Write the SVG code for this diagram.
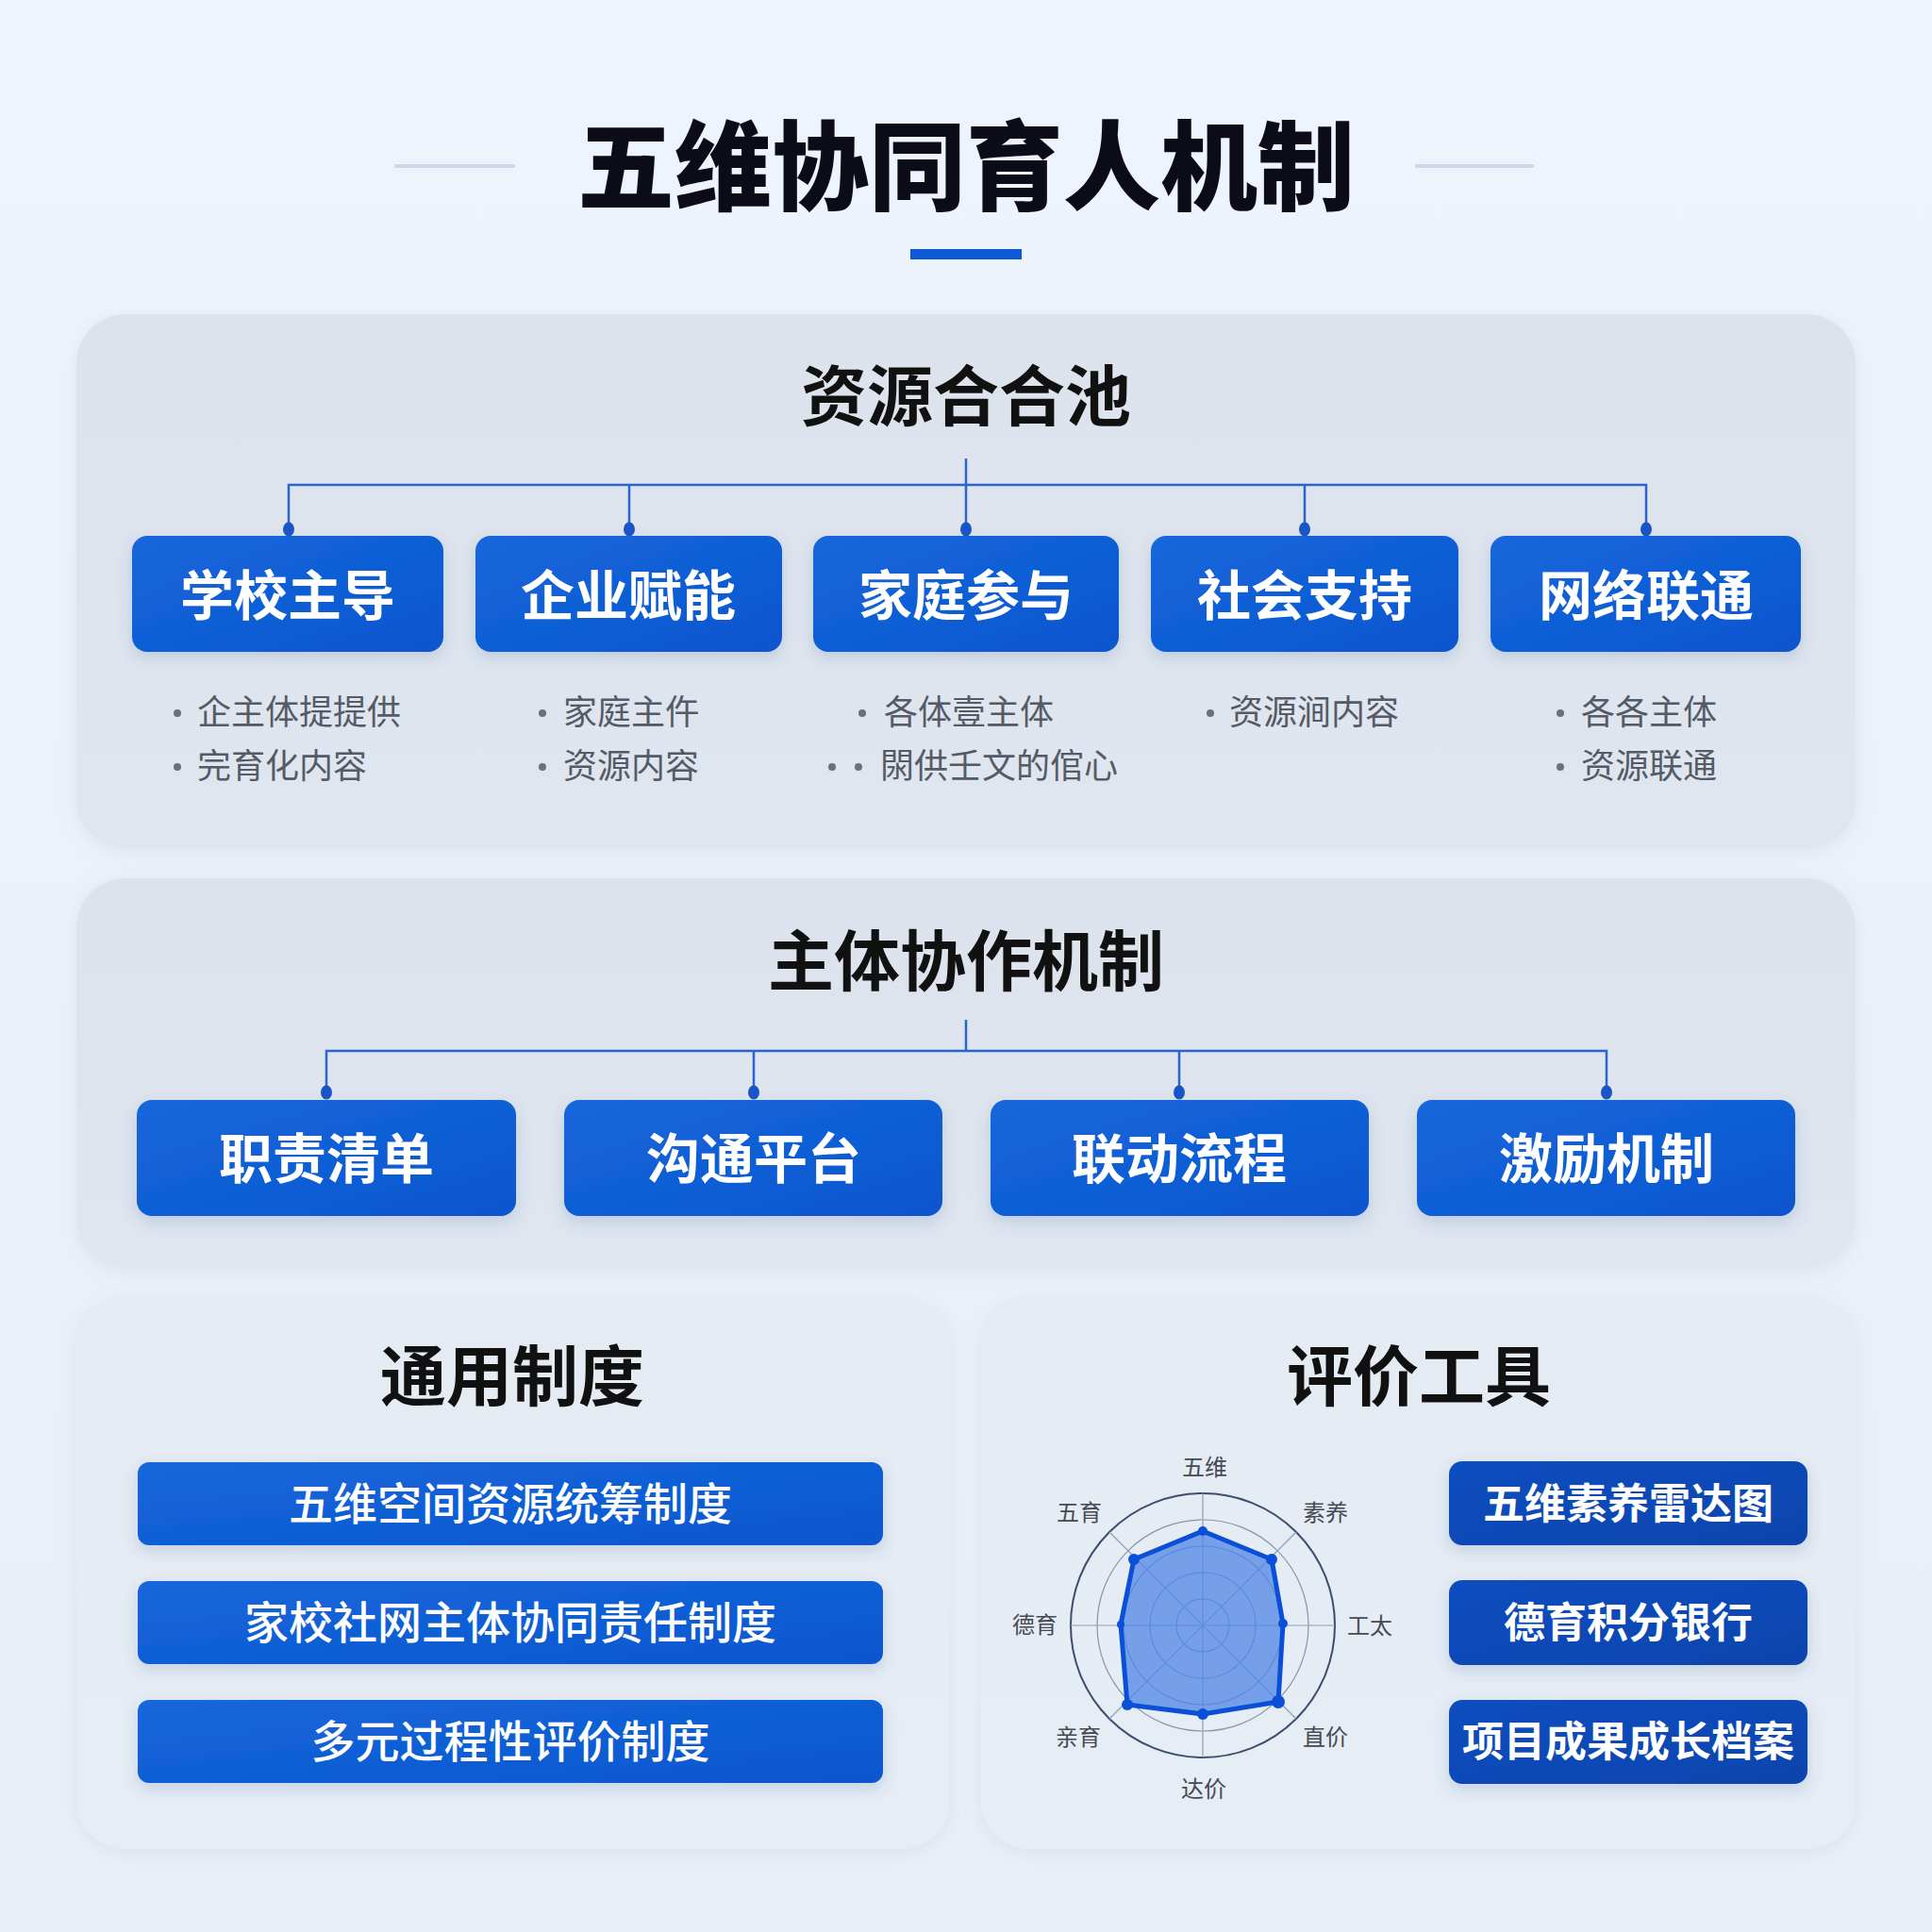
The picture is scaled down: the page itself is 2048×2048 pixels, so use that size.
<svg xmlns="http://www.w3.org/2000/svg" width="2048" height="2048" viewBox="0 0 2048 2048">
<defs>
  <linearGradient id="bg" x1="0" y1="0" x2="0" y2="1">
    <stop offset="0" stop-color="#eef4fb"/>
    <stop offset="1" stop-color="#e9eff7"/>
  </linearGradient>
  <linearGradient id="panelTop" x1="0" y1="0" x2="0" y2="1">
    <stop offset="0" stop-color="#dde3ec"/>
    <stop offset="1" stop-color="#e0e6ef"/>
  </linearGradient>
  <linearGradient id="panelBot" x1="0" y1="0" x2="0" y2="1">
    <stop offset="0" stop-color="#e5ebf3"/>
    <stop offset="1" stop-color="#e7edf5"/>
  </linearGradient>
  <linearGradient id="blueBox" x1="0" y1="0" x2="1" y2="1">
    <stop offset="0" stop-color="#1666dc"/>
    <stop offset="1" stop-color="#0b56cf"/>
  </linearGradient>
  <linearGradient id="navyBox" x1="0" y1="0" x2="1" y2="1">
    <stop offset="0" stop-color="#114ebf"/>
    <stop offset="1" stop-color="#0a44ad"/>
  </linearGradient>
  <filter id="shadow" x="-10%" y="-10%" width="120%" height="130%">
    <feDropShadow dx="0" dy="6" stdDeviation="8" flood-color="#2a4f8f" flood-opacity="0.18"/>
  </filter>
  <filter id="pshadow" x="-5%" y="-5%" width="110%" height="115%">
    <feDropShadow dx="0" dy="4" stdDeviation="10" flood-color="#7d90ad" flood-opacity="0.15"/>
  </filter>
  <style>
    .h1{font-family:"Noto Sans CJK SC","Noto Sans",sans-serif;font-weight:900;font-size:103px;fill:#0c0c18;text-anchor:middle}
    .h2{font-family:"Noto Sans CJK SC","Noto Sans",sans-serif;font-weight:700;font-size:70px;fill:#111;text-anchor:middle}
    .bt{font-family:"Noto Sans CJK SC","Noto Sans",sans-serif;font-weight:700;font-size:57px;fill:#fff;text-anchor:middle}
    .bar{font-family:"Noto Sans CJK SC","Noto Sans",sans-serif;font-weight:500;font-size:47px;fill:#fff;text-anchor:middle}
    .tool{font-family:"Noto Sans CJK SC","Noto Sans",sans-serif;font-weight:700;font-size:44px;fill:#fff;text-anchor:middle}
    .bl{font-family:"Noto Sans CJK SC","Noto Sans",sans-serif;font-weight:400;font-size:36px;fill:#555b66}
    .dot{fill:#6b717c}
    .rl{font-family:"Noto Sans CJK SC","Noto Sans",sans-serif;font-weight:400;font-size:24px;fill:#454a55;text-anchor:middle}
    .conn{stroke:#2d63cf;stroke-width:2.5;fill:none}
    .cdot{fill:#1a55c8}
    .box{fill:url(#blueBox);filter:url(#shadow)}
    .nbox{fill:url(#navyBox);filter:url(#shadow)}
    .ring{fill:none;stroke:#8794aa;stroke-width:1.2}
    .axis{stroke:#8f9cb2;stroke-width:1.2}
  </style>
</defs>

<rect width="2048" height="2048" fill="url(#bg)"/>

<!-- Title -->
<g id="title">
  <line x1="418" y1="176" x2="546" y2="176" stroke="#cbd8ea" stroke-width="4"/>
  <line x1="1500" y1="176" x2="1626" y2="176" stroke="#cbd8ea" stroke-width="4"/>
  <text class="h1" x="1024" y="215">五维协同育人机制</text>
  <rect x="965" y="264" width="118" height="11" fill="#0d5ad6"/>
</g>

<!-- Panels -->
<g id="panel-resource">
  <rect x="81" y="333" width="1886" height="566" rx="52" fill="url(#panelTop)" filter="url(#pshadow)"/>
  <text class="h2" x="1024" y="446">资源合合池</text>
</g>
<g id="panel-cooperation">
  <rect x="81" y="931" width="1886" height="412" rx="52" fill="url(#panelTop)" filter="url(#pshadow)"/>
  <text class="h2" x="1024" y="1045">主体协作机制</text>
</g>
<g id="panel-system">
  <rect x="81" y="1375" width="926" height="585" rx="52" fill="url(#panelBot)" filter="url(#pshadow)"/>
  <text class="h2" x="543" y="1485">通用制度</text>
</g>
<g id="panel-tools">
  <rect x="1040" y="1375" width="927" height="585" rx="52" fill="url(#panelBot)" filter="url(#pshadow)"/>
  <text class="h2" x="1504" y="1485">评价工具</text>
</g>

<!-- Connectors -->
<g id="connectors">
  <path class="conn" d="M1024 486 V514 M306 560 V514 H1745 V560 M667 514 V560 M1024 514 V560 M1383 514 V560"/>
  <ellipse class="cdot" cx="306" cy="561" rx="6" ry="7.5"/>
  <ellipse class="cdot" cx="667" cy="561" rx="6" ry="7.5"/>
  <ellipse class="cdot" cx="1024" cy="561" rx="6" ry="7.5"/>
  <ellipse class="cdot" cx="1383" cy="561" rx="6" ry="7.5"/>
  <ellipse class="cdot" cx="1745" cy="561" rx="6" ry="7.5"/>
  <path class="conn" d="M1024 1081 V1114 M346 1157 V1114 H1703 V1157 M799 1114 V1157 M1250 1114 V1157"/>
  <ellipse class="cdot" cx="346" cy="1158" rx="6" ry="7.5"/>
  <ellipse class="cdot" cx="799" cy="1158" rx="6" ry="7.5"/>
  <ellipse class="cdot" cx="1250" cy="1158" rx="6" ry="7.5"/>
  <ellipse class="cdot" cx="1703" cy="1158" rx="6" ry="7.5"/>
</g>

<!-- Resource nodes -->
<g id="node-school">
  <rect class="box" x="140" y="568" width="330" height="123" rx="16"/>
  <text class="bt" x="305" y="652">学校主导</text>
  <circle class="dot" cx="188" cy="756" r="4"/>
  <text class="bl" x="209" y="768">企主体提提供</text>
  <circle class="dot" cx="188" cy="813" r="4"/>
  <text class="bl" x="209" y="825">完育化内容</text>
</g>
<g id="node-enterprise">
  <rect class="box" x="504" y="568" width="325" height="123" rx="16"/>
  <text class="bt" x="666" y="652">企业赋能</text>
  <circle class="dot" cx="575" cy="756" r="4"/>
  <text class="bl" x="597" y="768">家庭主仵</text>
  <circle class="dot" cx="575" cy="813" r="4"/>
  <text class="bl" x="597" y="825">资源内容</text>
</g>
<g id="node-family">
  <rect class="box" x="862" y="568" width="324" height="123" rx="16"/>
  <text class="bt" x="1024" y="652">家庭参与</text>
  <circle class="dot" cx="914" cy="756" r="4"/>
  <text class="bl" x="937" y="768">各体壹主体</text>
  <circle class="dot" cx="882" cy="813" r="4"/>
  <circle class="dot" cx="910" cy="813" r="4"/>
  <text class="bl" x="933" y="825">閖供壬文的倌心</text>
</g>
<g id="node-society">
  <rect class="box" x="1220" y="568" width="326" height="123" rx="16"/>
  <text class="bt" x="1383" y="652">社会支持</text>
  <circle class="dot" cx="1283" cy="756" r="4"/>
  <text class="bl" x="1303" y="768">资源涧内容</text>
</g>
<g id="node-network">
  <rect class="box" x="1580" y="568" width="329" height="123" rx="16"/>
  <text class="bt" x="1745" y="652">网络联通</text>
  <circle class="dot" cx="1654" cy="756" r="4"/>
  <text class="bl" x="1676" y="768">各各主体</text>
  <circle class="dot" cx="1654" cy="813" r="4"/>
  <text class="bl" x="1676" y="825">资源联通</text>
</g>

<!-- Cooperation nodes -->
<g id="node-duty">
  <rect class="box" x="145" y="1166" width="402" height="123" rx="16"/>
  <text class="bt" x="346" y="1249">职责清单</text>
</g>
<g id="node-platform">
  <rect class="box" x="598" y="1166" width="401" height="123" rx="16"/>
  <text class="bt" x="799" y="1249">沟通平台</text>
</g>
<g id="node-process">
  <rect class="box" x="1050" y="1166" width="401" height="123" rx="16"/>
  <text class="bt" x="1250" y="1249">联动流程</text>
</g>
<g id="node-incentive">
  <rect class="box" x="1502" y="1166" width="401" height="123" rx="16"/>
  <text class="bt" x="1703" y="1249">激励机制</text>
</g>

<!-- System bars -->
<g id="bar-1">
  <rect class="box" x="146" y="1550" width="790" height="88" rx="12"/>
  <text class="bar" x="541" y="1611">五维空间资源统筹制度</text>
</g>
<g id="bar-2">
  <rect class="box" x="146" y="1676" width="790" height="88" rx="12"/>
  <text class="bar" x="541" y="1737">家校社网主体协同责任制度</text>
</g>
<g id="bar-3">
  <rect class="box" x="146" y="1802" width="790" height="88" rx="12"/>
  <text class="bar" x="541" y="1863">多元过程性评价制度</text>
</g>

<!-- Radar chart -->
<g id="radar">
  <circle class="ring" cx="1275" cy="1723" r="28"/>
  <circle class="ring" cx="1275" cy="1723" r="56"/>
  <circle class="ring" cx="1275" cy="1723" r="84"/>
  <circle class="ring" cx="1275" cy="1723" r="112"/>
  <circle cx="1275" cy="1723" r="140" fill="none" stroke="#3d4d6d" stroke-width="2"/>
  <line class="axis" x1="1275" y1="1583" x2="1275" y2="1863"/>
  <line class="axis" x1="1135" y1="1723" x2="1415" y2="1723"/>
  <line class="axis" x1="1176" y1="1624" x2="1374" y2="1822"/>
  <line class="axis" x1="1374" y1="1624" x2="1176" y2="1822"/>
  <polygon points="1275,1623 1348,1653 1360,1721 1355,1804 1275,1817 1195,1807 1188,1722 1202,1653" fill="#4f86e4" fill-opacity="0.75" stroke="#0a4fd8" stroke-width="5" stroke-linejoin="round"/>
  <g fill="#0a4fd8">
    <circle cx="1275" cy="1623" r="5"/>
    <circle cx="1348" cy="1653" r="6"/>
    <circle cx="1360" cy="1721" r="5"/>
    <circle cx="1355" cy="1804" r="7"/>
    <circle cx="1275" cy="1817" r="6"/>
    <circle cx="1195" cy="1807" r="6"/>
    <circle cx="1188" cy="1722" r="4"/>
    <circle cx="1202" cy="1653" r="6"/>
  </g>
  <text class="rl" x="1277" y="1564">五维</text>
  <text class="rl" x="1405" y="1612">素养</text>
  <text class="rl" x="1452" y="1732">工太</text>
  <text class="rl" x="1405" y="1850">直价</text>
  <text class="rl" x="1276" y="1905">达价</text>
  <text class="rl" x="1143" y="1850">亲育</text>
  <text class="rl" x="1097" y="1731">德育</text>
  <text class="rl" x="1144" y="1612">五育</text>
</g>

<!-- Tool boxes -->
<g id="tool-1">
  <rect class="nbox" x="1536" y="1549" width="380" height="89" rx="14"/>
  <text class="tool" x="1726" y="1610">五维素养雷达图</text>
</g>
<g id="tool-2">
  <rect class="nbox" x="1536" y="1675" width="380" height="90" rx="14"/>
  <text class="tool" x="1726" y="1736">德育积分银行</text>
</g>
<g id="tool-3">
  <rect class="nbox" x="1536" y="1802" width="380" height="89" rx="14"/>
  <text class="tool" x="1726" y="1862">项目成果成长档案</text>
</g>
</svg>
